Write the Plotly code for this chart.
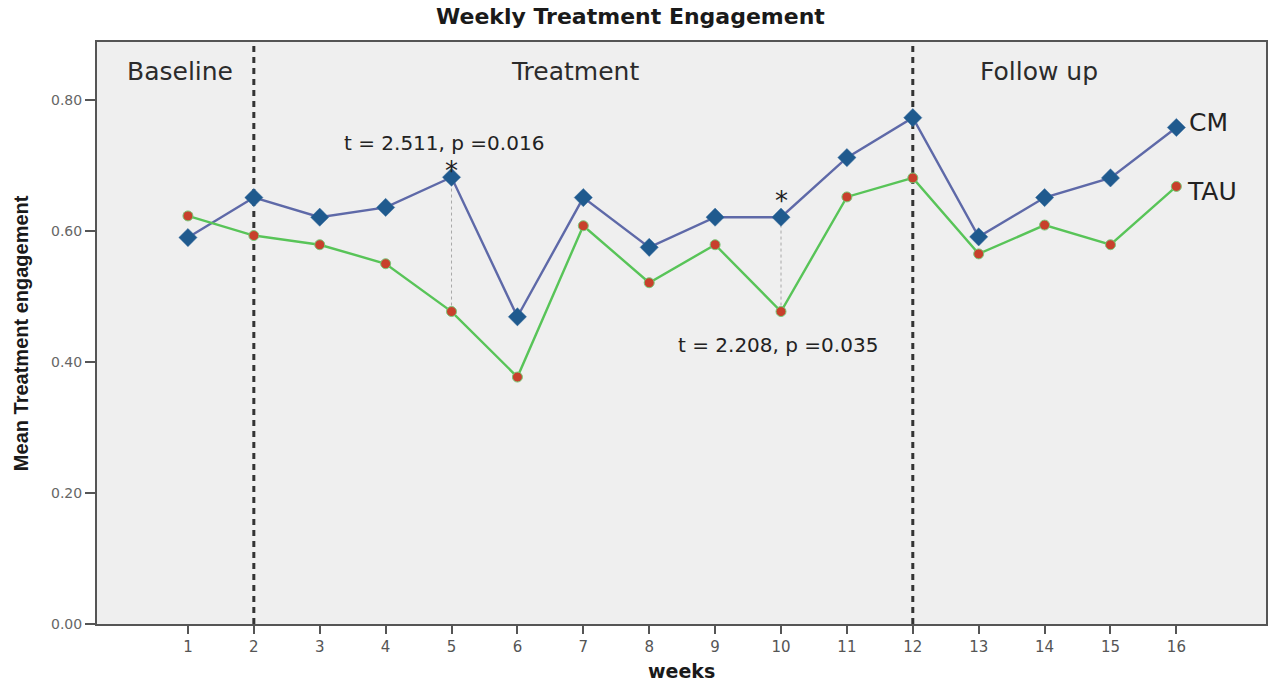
import plotly.graph_objects as go

# Weekly mean treatment engagement for the two groups
weeks = list(range(1, 17))
cm = [0.590, 0.651, 0.621, 0.636, 0.682, 0.469, 0.651, 0.575,
      0.621, 0.621, 0.712, 0.773, 0.591, 0.651, 0.681, 0.758]
tau = [0.623, 0.593, 0.579, 0.550, 0.477, 0.377, 0.608, 0.521,
       0.579, 0.477, 0.652, 0.681, 0.565, 0.609, 0.579, 0.668]

y_ticks = [0.0, 0.2, 0.4, 0.6, 0.8]
phase_breaks = [2, 12]
phases = [("Baseline", 0.885), ("Treatment", 6.877), ("Follow up", 13.92)]
sig_weeks = [5, 10]
sig_tests = ["t = 2.511, p =0.016", "t = 2.208, p =0.035"]

X_RANGE = [-0.38, 17.36]
Y_RANGE = [0, 0.8885]

fig = go.Figure()

fig.add_trace(go.Scatter(
    x=weeks, y=cm, mode="lines+markers", name="CM",
    line=dict(color="#5E69A8", width=2.4),
    marker=dict(symbol="diamond", size=14, color="#1F5A8E",
                line=dict(color="#3C6FA0", width=0.5)),
))
fig.add_trace(go.Scatter(
    x=weeks, y=tau, mode="lines+markers", name="TAU",
    line=dict(color="#58C458", width=2.4),
    marker=dict(symbol="circle", size=10, color="#C8402C",
                line=dict(color="#79C979", width=1)),
))

shapes = []
# phase boundaries
for b in phase_breaks:
    shapes.append(dict(type="line", xref="x", yref="paper", x0=b, x1=b, y0=0, y1=1,
                       line=dict(color="#333333", width=3, dash="6px,5px"), layer="below"))
# connectors between the groups at the significant weeks
for w in sig_weeks:
    i = weeks.index(w)
    shapes.append(dict(type="line", xref="x", yref="y", x0=w, x1=w, y0=tau[i], y1=cm[i],
                       line=dict(color="#A8A8A8", width=1, dash="dot"), layer="below"))

annotations = []
for label, xpos in phases:
    annotations.append(dict(x=xpos, y=0.843, xref="x", yref="y", text=label, showarrow=False,
                            font=dict(family="DejaVu Sans", size=25, color="#2B2B2B"),
                            xanchor="center", yanchor="middle"))

# significance markers and test statistics
annotations.append(dict(x=sig_weeks[0], y=0.692, xref="x", yref="y", text="*", showarrow=False,
                        font=dict(family="DejaVu Sans", size=26, color="#222222")))
annotations.append(dict(x=sig_weeks[1], y=0.646, xref="x", yref="y", text="*", showarrow=False,
                        font=dict(family="DejaVu Sans", size=26, color="#222222")))
annotations.append(dict(x=4.893, y=0.734, xref="x", yref="y", text=sig_tests[0], showarrow=False,
                        font=dict(family="DejaVu Sans", size=20, color="#222222")))
annotations.append(dict(x=9.953, y=0.426, xref="x", yref="y", text=sig_tests[1], showarrow=False,
                        font=dict(family="DejaVu Sans", size=20, color="#222222")))

# series labels
annotations.append(dict(x=16.165, y=0.766, xref="x", yref="y", text="CM", showarrow=False,
                        xanchor="left", yanchor="middle",
                        font=dict(family="DejaVu Sans", size=25, color="#222222")))
annotations.append(dict(x=16.135, y=0.661, xref="x", yref="y", text="TAU", showarrow=False,
                        xanchor="left", yanchor="middle",
                        font=dict(family="DejaVu Sans", size=25, color="#222222")))

# titles
annotations.append(dict(x=0.456, y=1.043, xref="paper", yref="paper",
                        text="<b>Weekly Treatment Engagement</b>", showarrow=False,
                        xanchor="center", yanchor="middle",
                        font=dict(family="DejaVu Sans", size=22, color="#1A1A1A")))
annotations.append(dict(x=0.5, y=-0.081, xref="paper", yref="paper",
                        text="<b>weeks</b>", showarrow=False,
                        xanchor="center", yanchor="middle",
                        font=dict(family="DejaVu Sans", size=19, color="#1A1A1A")))
annotations.append(dict(x=-0.0649, y=0.5, xref="paper", yref="paper",
                        text="<b>Mean Treatment engagement</b>", showarrow=False, textangle=-90,
                        xanchor="center", yanchor="middle",
                        font=dict(family="Liberation Sans", size=20, color="#1A1A1A")))

fig.update_layout(
    width=1271, height=684,
    margin=dict(l=97, r=3, t=42, b=60),
    paper_bgcolor="white", plot_bgcolor="#EFEFEF",
    showlegend=False,
    shapes=shapes, annotations=annotations,
    xaxis=dict(range=X_RANGE, tickmode="array", tickvals=weeks,
               ticktext=[str(w) for w in weeks],
               showgrid=False, zeroline=False,
               showline=True, mirror=True, linecolor="#555555", linewidth=2,
               ticks="outside", ticklen=8, tickwidth=2, tickcolor="#555555",
               tickfont=dict(family="DejaVu Sans", size=15, color="#555555")),
    yaxis=dict(range=Y_RANGE, tickmode="array", tickvals=y_ticks,
               ticktext=[f"{v:.2f}" for v in y_ticks],
               showgrid=False, zeroline=False,
               showline=True, mirror=True, linecolor="#555555", linewidth=2,
               ticks="outside", ticklen=10, tickwidth=2, tickcolor="#555555",
               tickfont=dict(family="DejaVu Sans", size=14, color="#666666")),
)

fig.write_html("out.html")
